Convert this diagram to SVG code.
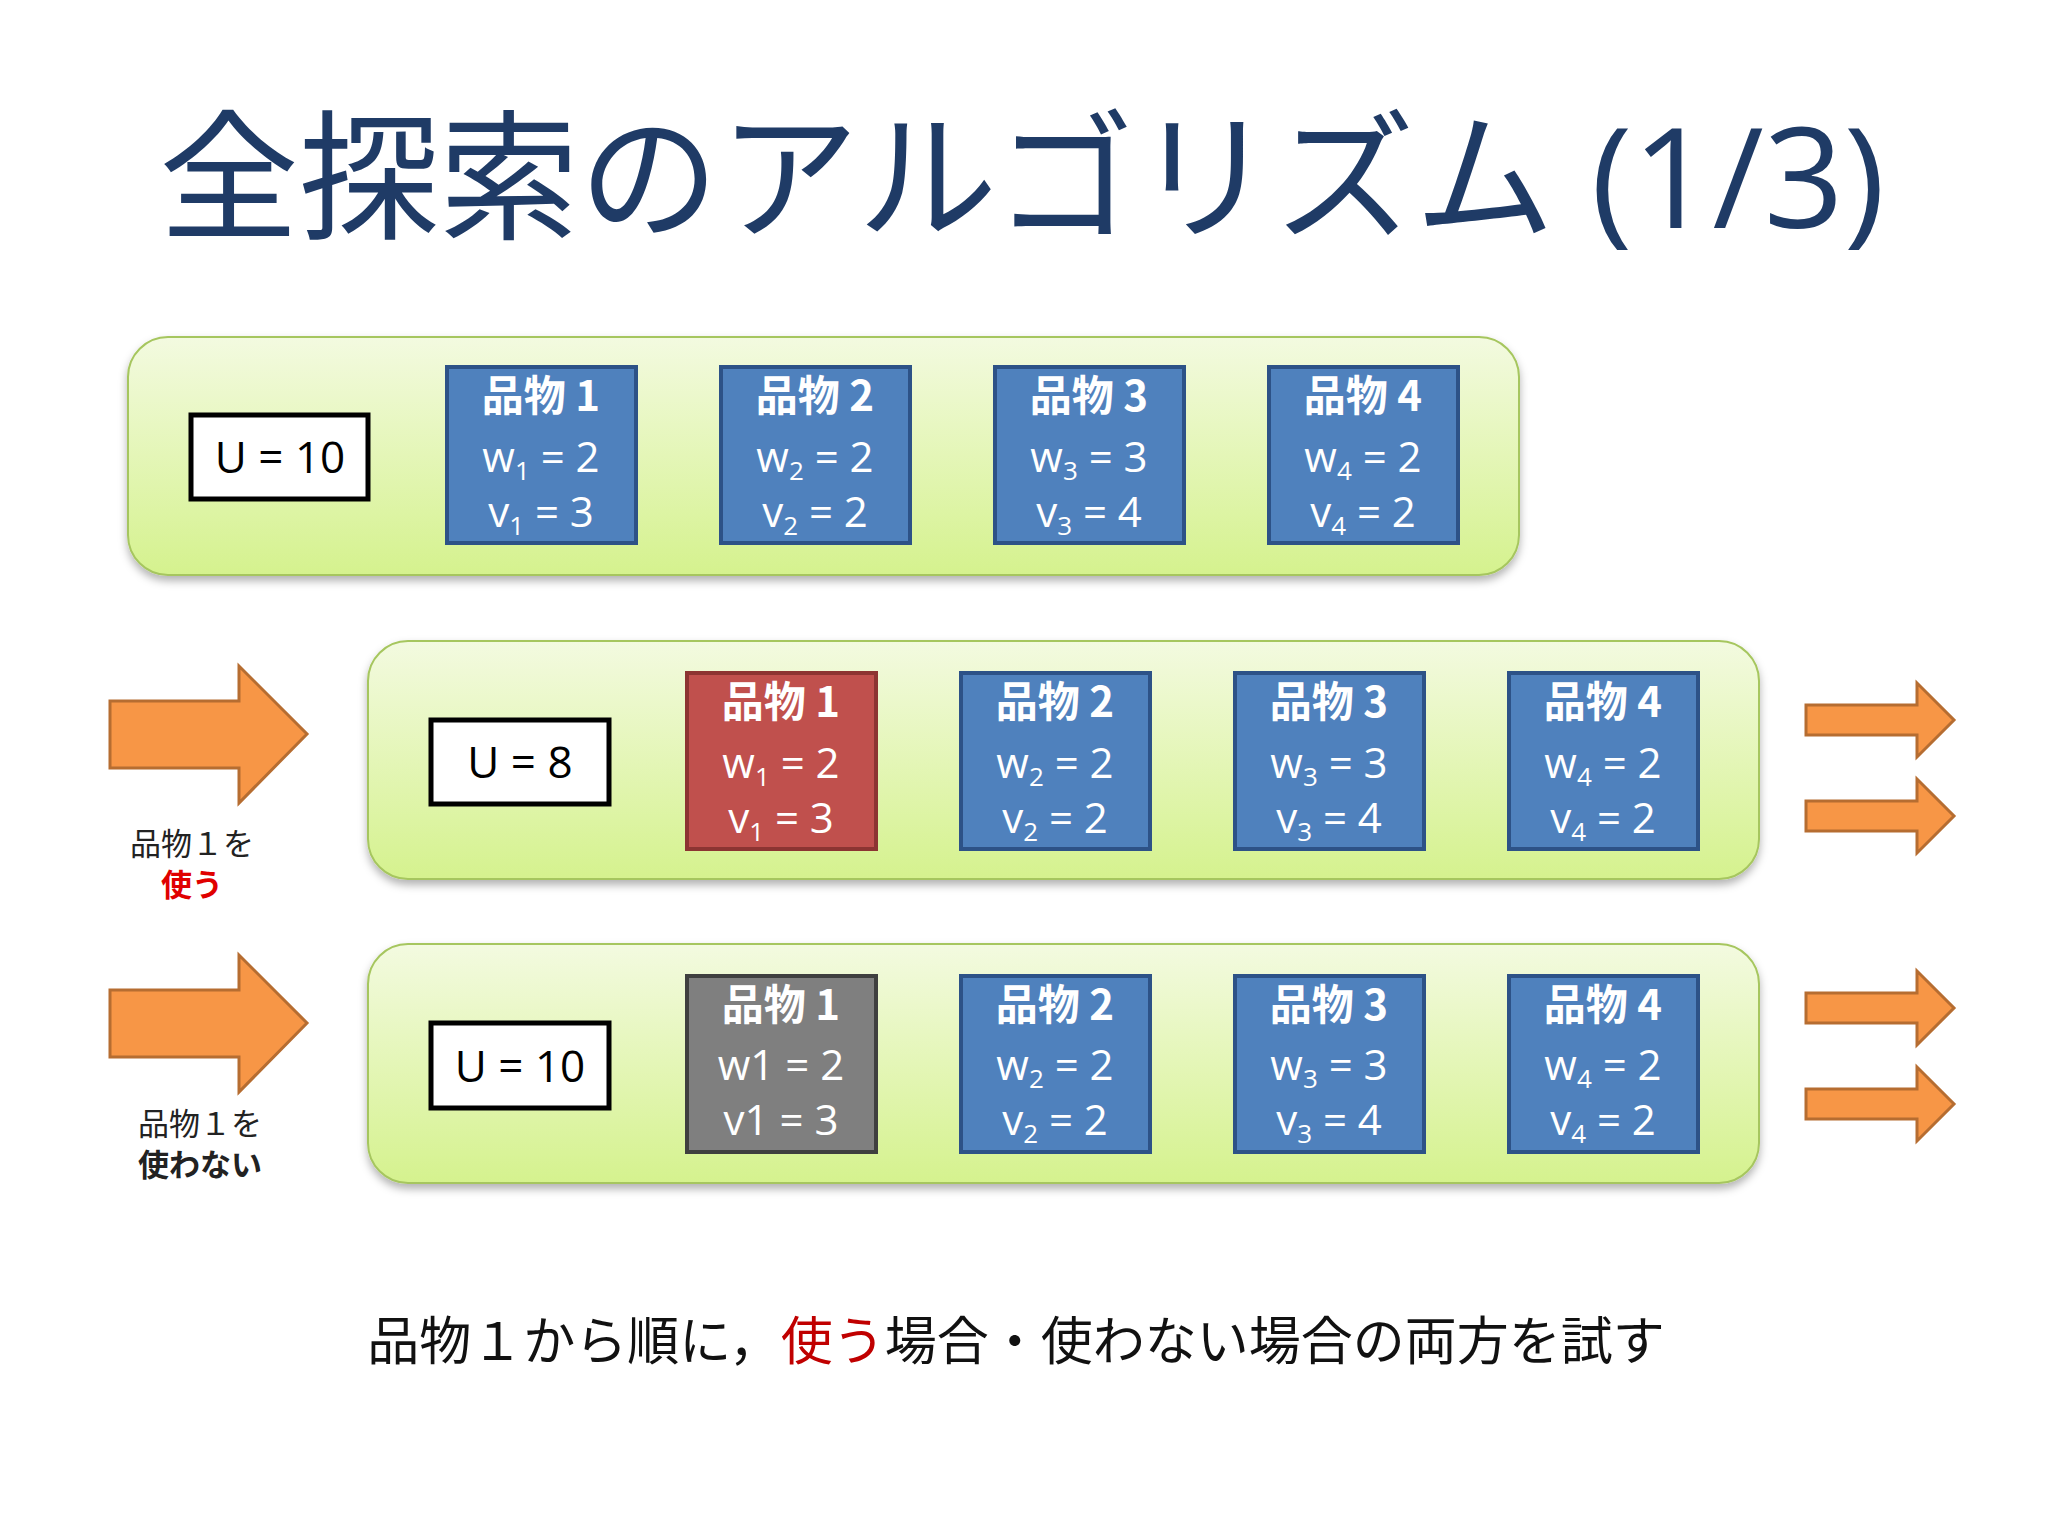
<svg xmlns="http://www.w3.org/2000/svg" width="2048" height="1536" viewBox="0 0 2048 1536">
<defs>
<linearGradient id="pg" x1="0" y1="0" x2="0" y2="1"><stop offset="0" stop-color="#f3fae0"/><stop offset="1" stop-color="#d5f28e"/></linearGradient>
<filter id="sh" x="-5%" y="-10%" width="110%" height="125%"><feDropShadow dx="0" dy="5" stdDeviation="4" flood-color="#000" flood-opacity="0.3"/></filter>
</defs>
<style>
text{font-family:"Open Sans","Noto Sans","Noto Sans CJK JP",sans-serif}
.panel{fill:url(#pg);stroke:#a6c65e;stroke-width:2;filter:url(#sh)}
.ubox{fill:#fff;stroke:#000;stroke-width:5}
.ut{font-size:44px;fill:#000;text-anchor:middle}
.blue{fill:#4f81bd;stroke:#2d5287;stroke-width:4}
.red{fill:#c0504d;stroke:#8c3432;stroke-width:4}
.gray{fill:#7f7f7f;stroke:#3f3f3f;stroke-width:4}
.it{font-size:42px;fill:#fff;text-anchor:middle}
.ih{font-size:42px;fill:#fff;text-anchor:middle;font-weight:bold;font-family:"Noto Sans CJK JP","Open Sans",sans-serif}
.arr{fill:#f79646;stroke:#b66d31;stroke-width:3}
.lab{font-size:31px;text-anchor:middle;font-family:"Noto Sans CJK JP",sans-serif;fill:#222}
</style>
<rect width="2048" height="1536" fill="#fff"/>
<text x="1022" y="228" font-size="140" fill="#1f3b66" text-anchor="middle" font-family="Noto Sans CJK JP,sans-serif">全探索のアルゴリズム (1/3)</text>

<g id="row1">
<rect class="panel" x="128" y="337" width="1391" height="238" rx="40"/>
<rect class="ubox" x="191" y="415" width="177" height="84"/><text class="ut" x="280" y="473">U = 10</text>
</g>
<g id="row2">
<rect class="panel" x="368" y="641" width="1391" height="238" rx="40"/>
<rect class="ubox" x="431" y="720" width="178" height="84"/><text class="ut" x="520" y="778">U = 8</text>
</g>
<g id="row3">
<rect class="panel" x="368" y="944" width="1391" height="239" rx="40"/>
<rect class="ubox" x="431" y="1023" width="178" height="85"/><text class="ut" x="520" y="1082">U = 10</text>
</g>

<g id="r1i1"><rect class="blue" x="447" y="367" width="189" height="176"/><text class="ih" x="541" y="411">品物 1</text><text class="it" x="541" y="472">w<tspan font-size="26" dy="8">1</tspan><tspan dy="-8"> = 2</tspan></text><text class="it" x="541" y="527">v<tspan font-size="26" dy="8">1</tspan><tspan dy="-8"> = 3</tspan></text></g>
<g id="r1i2"><rect class="blue" x="721" y="367" width="189" height="176"/><text class="ih" x="815" y="411">品物 2</text><text class="it" x="815" y="472">w<tspan font-size="26" dy="8">2</tspan><tspan dy="-8"> = 2</tspan></text><text class="it" x="815" y="527">v<tspan font-size="26" dy="8">2</tspan><tspan dy="-8"> = 2</tspan></text></g>
<g id="r1i3"><rect class="blue" x="995" y="367" width="189" height="176"/><text class="ih" x="1089" y="411">品物 3</text><text class="it" x="1089" y="472">w<tspan font-size="26" dy="8">3</tspan><tspan dy="-8"> = 3</tspan></text><text class="it" x="1089" y="527">v<tspan font-size="26" dy="8">3</tspan><tspan dy="-8"> = 4</tspan></text></g>
<g id="r1i4"><rect class="blue" x="1269" y="367" width="189" height="176"/><text class="ih" x="1363" y="411">品物 4</text><text class="it" x="1363" y="472">w<tspan font-size="26" dy="8">4</tspan><tspan dy="-8"> = 2</tspan></text><text class="it" x="1363" y="527">v<tspan font-size="26" dy="8">4</tspan><tspan dy="-8"> = 2</tspan></text></g>

<g id="r2i1"><rect class="red" x="687" y="673" width="189" height="176"/><text class="ih" x="781" y="717">品物 1</text><text class="it" x="781" y="778">w<tspan font-size="26" dy="8">1</tspan><tspan dy="-8"> = 2</tspan></text><text class="it" x="781" y="833">v<tspan font-size="26" dy="8">1</tspan><tspan dy="-8"> = 3</tspan></text></g>
<g id="r2i2"><rect class="blue" x="961" y="673" width="189" height="176"/><text class="ih" x="1055" y="717">品物 2</text><text class="it" x="1055" y="778">w<tspan font-size="26" dy="8">2</tspan><tspan dy="-8"> = 2</tspan></text><text class="it" x="1055" y="833">v<tspan font-size="26" dy="8">2</tspan><tspan dy="-8"> = 2</tspan></text></g>
<g id="r2i3"><rect class="blue" x="1235" y="673" width="189" height="176"/><text class="ih" x="1329" y="717">品物 3</text><text class="it" x="1329" y="778">w<tspan font-size="26" dy="8">3</tspan><tspan dy="-8"> = 3</tspan></text><text class="it" x="1329" y="833">v<tspan font-size="26" dy="8">3</tspan><tspan dy="-8"> = 4</tspan></text></g>
<g id="r2i4"><rect class="blue" x="1509" y="673" width="189" height="176"/><text class="ih" x="1603" y="717">品物 4</text><text class="it" x="1603" y="778">w<tspan font-size="26" dy="8">4</tspan><tspan dy="-8"> = 2</tspan></text><text class="it" x="1603" y="833">v<tspan font-size="26" dy="8">4</tspan><tspan dy="-8"> = 2</tspan></text></g>

<g id="r3i1"><rect class="gray" x="687" y="976" width="189" height="176"/><text class="ih" x="781" y="1020">品物 1</text><text class="it" x="781" y="1080">w1 = 2</text><text class="it" x="781" y="1135">v1 = 3</text></g>
<g id="r3i2"><rect class="blue" x="961" y="976" width="189" height="176"/><text class="ih" x="1055" y="1020">品物 2</text><text class="it" x="1055" y="1080">w<tspan font-size="26" dy="8">2</tspan><tspan dy="-8"> = 2</tspan></text><text class="it" x="1055" y="1135">v<tspan font-size="26" dy="8">2</tspan><tspan dy="-8"> = 2</tspan></text></g>
<g id="r3i3"><rect class="blue" x="1235" y="976" width="189" height="176"/><text class="ih" x="1329" y="1020">品物 3</text><text class="it" x="1329" y="1080">w<tspan font-size="26" dy="8">3</tspan><tspan dy="-8"> = 3</tspan></text><text class="it" x="1329" y="1135">v<tspan font-size="26" dy="8">3</tspan><tspan dy="-8"> = 4</tspan></text></g>
<g id="r3i4"><rect class="blue" x="1509" y="976" width="189" height="176"/><text class="ih" x="1603" y="1020">品物 4</text><text class="it" x="1603" y="1080">w<tspan font-size="26" dy="8">4</tspan><tspan dy="-8"> = 2</tspan></text><text class="it" x="1603" y="1135">v<tspan font-size="26" dy="8">4</tspan><tspan dy="-8"> = 2</tspan></text></g>

<g id="connectors">
<polygon class="arr" points="110,701 239,701 239,666 307,734 239,803 239,768 110,768"/>
<polygon class="arr" points="110,990 239,990 239,955 307,1023 239,1092 239,1057 110,1057"/>
<polygon class="arr" points="1806,705 1917,705 1917,683 1954,720 1917,757 1917,735 1806,735"/>
<polygon class="arr" points="1806,801 1917,801 1917,779 1954,816 1917,853 1917,831 1806,831"/>
<polygon class="arr" points="1806,993 1917,993 1917,971 1954,1008 1917,1045 1917,1023 1806,1023"/>
<polygon class="arr" points="1806,1089 1917,1089 1917,1067 1954,1104 1917,1141 1917,1119 1806,1119"/>
</g>
<g id="labels">
<text class="lab" x="192" y="855">品物１を</text>
<text class="lab" x="192" y="896" fill="#e00000" style="fill:#e00000;font-weight:bold">使う</text>
<text class="lab" x="200" y="1135">品物１を</text>
<text class="lab" x="200" y="1176" style="font-weight:bold">使わない</text>
</g>
<text x="1016" y="1360" font-size="52" text-anchor="middle" fill="#111" style="font-family:'Noto Sans CJK JP',sans-serif">品物１から順に，<tspan fill="#c00000">使う</tspan>場合・使わない場合の両方を試す</text>
</svg>
